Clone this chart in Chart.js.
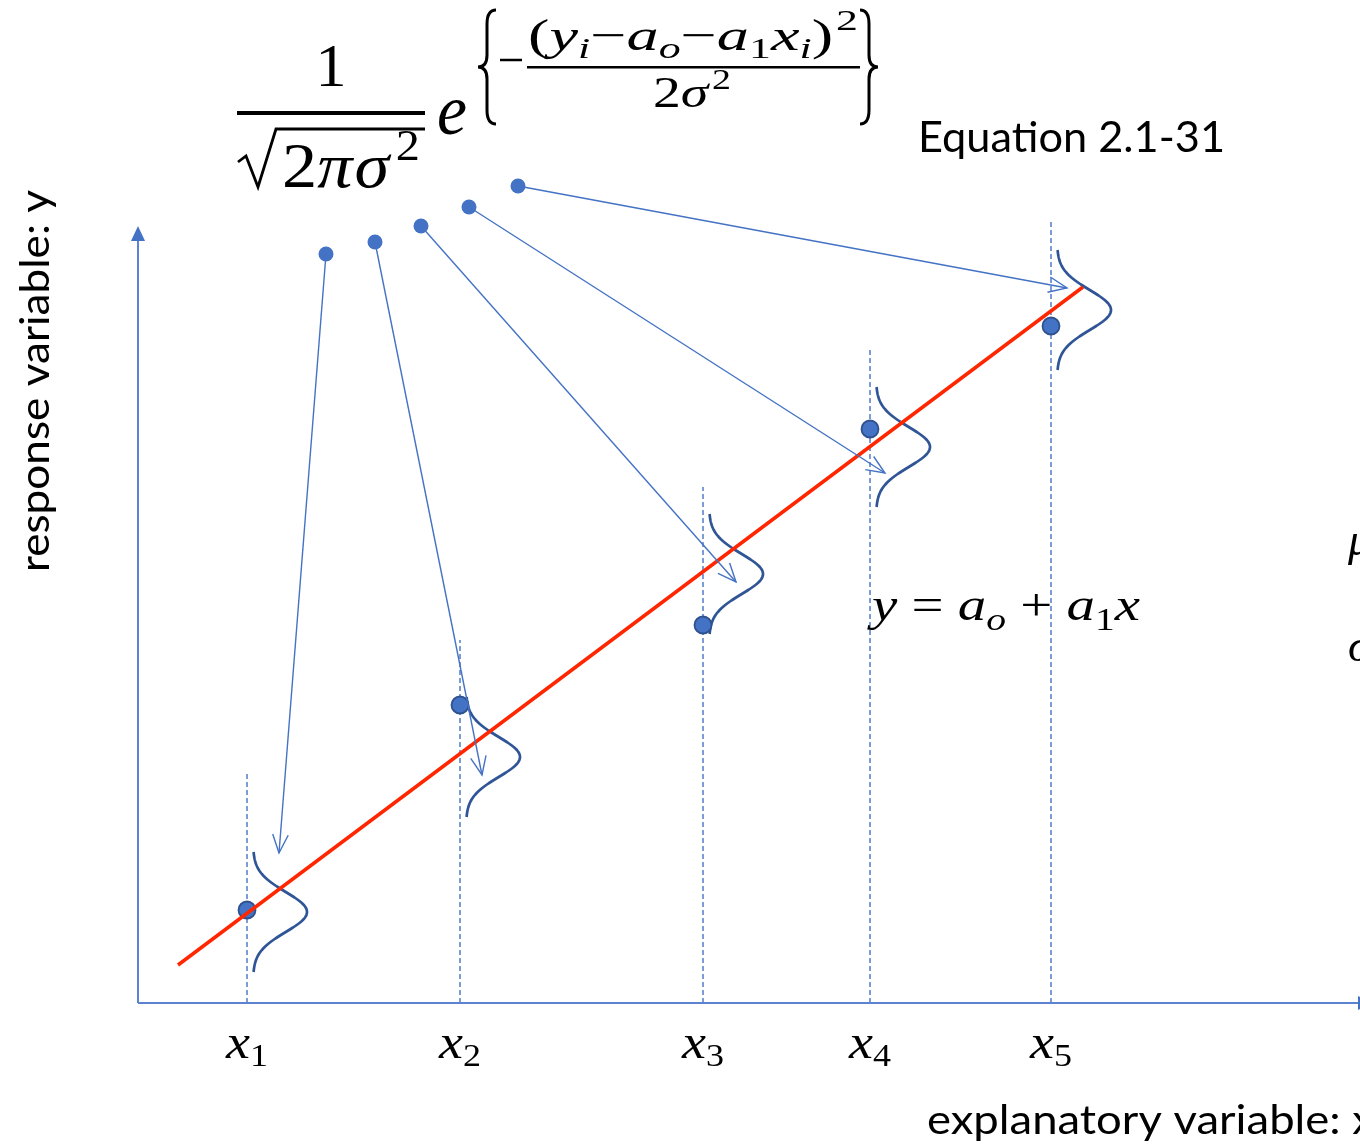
<!DOCTYPE html>
<html><head><meta charset="utf-8">
<script src="https://cdn.jsdelivr.net/npm/chart.js@4.4.1/dist/chart.umd.min.js"></script>
<style>html,body{margin:0;padding:0;background:#fff;overflow:hidden}#wrap{width:1360px;height:1145px;position:relative}</style>
</head><body><div id="wrap"><canvas id="c"></canvas></div>
<script>
// ---- data (diagram units: 1 unit = one grid step of the sketch) ----
const xSubscripts = ['1','2','3','4','5'];
const obsX = [1.09, 3.22, 5.65, 7.32, 9.13];
const obsY = [0.93, 2.98, 3.78, 5.74, 6.77];
const fitX = [0.40, 9.45];
const fitY = [0.38, 7.16];
const gaussMu = [0.91, 2.46, 4.29, 5.56, 6.93];
const guideTop = [2.30, 3.63, 5.16, 6.56, 7.83];
const dotX = [1.88, 2.37, 2.83, 3.31, 3.80];
const dotY = [7.49, 7.61, 7.77, 7.96, 8.17];
const arrowToX = [1.41, 3.44, 5.98, 7.47, 9.29];
const arrowToY = [1.50, 2.28, 4.21, 5.30, 7.15];
const yAxisTop = 7.77, xAxisEnd = 12.35;

const SERIF = '"Liberation Serif","DejaVu Serif",serif';
const SANS = 'Lato,"Open Sans","Liberation Sans",sans-serif';
const I = (t,s,dy=0,g=0)=>({t,s,dy,g,it:true});
const R = (t,s,dy=0,g=0)=>({t,s,dy,g,it:false});

function drawTokens(ctx, toks, x, y, fitW){
  let w=0;
  toks.forEach(k=>{ctx.font=(k.it?'italic ':'')+k.s+'px '+SERIF; k.w=ctx.measureText(k.t).width+k.g; w+=k.w;});
  const sx = fitW ? fitW/w : 1;
  ctx.save(); ctx.translate(x,y); ctx.scale(sx,1);
  let cx=0;
  toks.forEach(k=>{ctx.font=(k.it?'italic ':'')+k.s+'px '+SERIF; ctx.fillText(k.t,cx+k.g,k.dy); cx+=k.w;});
  ctx.restore();
}
function fitText(ctx, text, font, x, y, fitW){
  ctx.font=font; const w=ctx.measureText(text).width;
  ctx.save(); ctx.translate(x,y); ctx.scale(fitW/w,1); ctx.fillText(text,0,0); ctx.restore();
}
function brace(ctx, x0, top, bot, dir){
  const mid=(top+bot)/2, xs=x0, xm=x0-dir*9, xt=x0-dir*18;
  ctx.beginPath();
  ctx.moveTo(xs, top);
  ctx.quadraticCurveTo(xm, top, xm, top+14);
  ctx.lineTo(xm, mid-12);
  ctx.quadraticCurveTo(xm, mid, xt, mid);
  ctx.quadraticCurveTo(xm, mid, xm, mid+12);
  ctx.lineTo(xm, bot-14);
  ctx.quadraticCurveTo(xm, bot, xs, bot);
  ctx.stroke();
}

const diagram = {
  id:'diagram',
  beforeDatasetsDraw(chart){
    const {ctx, scales:{x:sx, y:sy}} = chart;
    const X=v=>sx.getPixelForValue(v), Y=v=>sy.getPixelForValue(v);
    ctx.save();
    ctx.strokeStyle='#4472C4'; ctx.lineWidth=1.4; ctx.setLineDash([5,3]);
    obsX.forEach((v,i)=>{ctx.beginPath();ctx.moveTo(X(v),Y(0));ctx.lineTo(X(v),Y(guideTop[i]));ctx.stroke();});
    ctx.setLineDash([]);
    ctx.strokeStyle='#5B83CF'; ctx.lineWidth=2;
    ctx.beginPath(); ctx.moveTo(X(0),Y(0)); ctx.lineTo(X(0),Y(yAxisTop)+12); ctx.stroke();
    ctx.beginPath(); ctx.moveTo(X(0),Y(0)); ctx.lineTo(X(xAxisEnd)-12,Y(0)); ctx.stroke();
    ctx.fillStyle='#4472C4';
    ctx.beginPath(); ctx.moveTo(X(0),Y(yAxisTop)); ctx.lineTo(X(0)-7,Y(yAxisTop)+15); ctx.lineTo(X(0)+7,Y(yAxisTop)+15); ctx.closePath(); ctx.fill();
    ctx.beginPath(); ctx.moveTo(X(xAxisEnd),Y(0)); ctx.lineTo(X(xAxisEnd)-15,Y(0)-7); ctx.lineTo(X(xAxisEnd)-15,Y(0)+7); ctx.closePath(); ctx.fill();
    ctx.strokeStyle='#2F5597'; ctx.lineWidth=2.7;
    const amp=0.54, sig=0.2, off=0.06;
    obsX.forEach((v,i)=>{
      ctx.beginPath();
      for(let t=-0.6;t<=0.6001;t+=0.01){
        const px=X(v+off+amp*Math.exp(-t*t/(2*sig*sig))), py=Y(gaussMu[i]-t);
        if(t===-0.6) ctx.moveTo(px,py); else ctx.lineTo(px,py);
      }
      ctx.stroke();
    });
    ctx.restore();
  },
  afterDatasetsDraw(chart){
    const {ctx, scales:{x:sx, y:sy}} = chart;
    const X=v=>sx.getPixelForValue(v), Y=v=>sy.getPixelForValue(v);
    ctx.save();
    ctx.strokeStyle='#4472C4'; ctx.lineWidth=1.4;
    dotX.forEach((v,i)=>{
      const x0=X(v), y0=Y(dotY[i]), x1=X(arrowToX[i]), y1=Y(arrowToY[i]);
      ctx.beginPath(); ctx.moveTo(x0,y0); ctx.lineTo(x1,y1); ctx.stroke();
      const a=Math.atan2(y1-y0,x1-x0), L=20, h=0.4;
      ctx.beginPath();
      ctx.moveTo(x1-L*Math.cos(a-h), y1-L*Math.sin(a-h));
      ctx.lineTo(x1,y1);
      ctx.lineTo(x1-L*Math.cos(a+h), y1-L*Math.sin(a+h));
      ctx.stroke();
    });
    ctx.fillStyle='#000'; ctx.strokeStyle='#000'; ctx.textBaseline='alphabetic'; ctx.textAlign='left';
    ctx.font='62px '+SERIF; ctx.textAlign='center'; ctx.fillText('1',331,86); ctx.textAlign='left';
    ctx.fillRect(237,111,188,4);
    ctx.lineWidth=2.8; ctx.lineJoin='miter';
    ctx.beginPath(); ctx.moveTo(238,162); ctx.lineTo(246,156); ctx.lineTo(258,187); ctx.lineTo(276,129); ctx.lineTo(425,129); ctx.stroke();
    drawTokens(ctx,[R('2',64),I('π',64),I('σ',64,0,2),R('2',44,-27,6)],282,187,138);
    drawTokens(ctx,[I('e',72)],437,134,30);
    ctx.lineWidth=3;
    brace(ctx,496,10,124,1);
    brace(ctx,860,10,124,-1);
    ctx.lineWidth=2.5;
    ctx.beginPath(); ctx.moveTo(500,60); ctx.lineTo(522,60); ctx.stroke();
    drawTokens(ctx,[R('(',44),I('y',44),I('i',30,8),R('−',44),I('a',44),I('o',30,8),R('−',44),I('a',44),R('1',30,8),I('x',44),I('i',30,8),R(')',44),R('2',30,-20,2)],528,50,330);
    ctx.fillRect(527,66,333,2.5);
    drawTokens(ctx,[R('2',44),I('σ',44),R('2',30,-18,3)],653,107,78);
    fitText(ctx,'Equation 2.1-31','42px '+SANS,918,152,307);
    drawTokens(ctx,[I('y',46),R(' = ',46),I('a',46),I('o',32,10),R(' + ',46),I('a',46),R('1',32,10),I('x',46)],872,620,268);
    obsX.forEach((v,i)=>{
      drawTokens(ctx,[I('x',48),R(xSubscripts[i],32,8)],X(v)-21,1058,42);
    });
    drawTokens(ctx,[I('μ',46)],1348,555);
    drawTokens(ctx,[I('σ',46)],1348,661);
    fitText(ctx,'explanatory variable: x','40px '+SANS,927,1134,448);
    ctx.save(); ctx.translate(49,572); ctx.rotate(-Math.PI/2);
    fitText(ctx,'response variable: y','40px '+SANS,0,0,382);
    ctx.restore();
    ctx.restore();
  }
};

new Chart(document.getElementById('c'), {
  type:'scatter',
  data:{datasets:[
    {type:'line', data:fitX.map((x,i)=>({x,y:fitY[i]})), borderColor:'#FF2600', borderWidth:3.5, pointRadius:0, fill:false, order:0, clip:false},
    {data:obsX.map((x,i)=>({x,y:obsY[i]})), backgroundColor:'#4472C4', borderColor:'#2F528F', borderWidth:1.8, pointRadius:8.5, order:1, clip:false},
    {data:dotX.map((x,i)=>({x,y:dotY[i]})), backgroundColor:'#4472C4', borderWidth:0, pointRadius:7.5, order:2, clip:false}
  ]},
  options:{
    responsive:true, maintainAspectRatio:false, animation:false, events:[],
    layout:{padding:0, autoPadding:false},
    plugins:{legend:{display:false}, tooltip:{enabled:false}},
    scales:{
      x:{type:'linear', min:-1.38, max:12.22, display:false},
      y:{type:'linear', min:-1.42, max:10.03, display:false}
    }
  },
  plugins:[diagram]
});
</script>
</body></html>
